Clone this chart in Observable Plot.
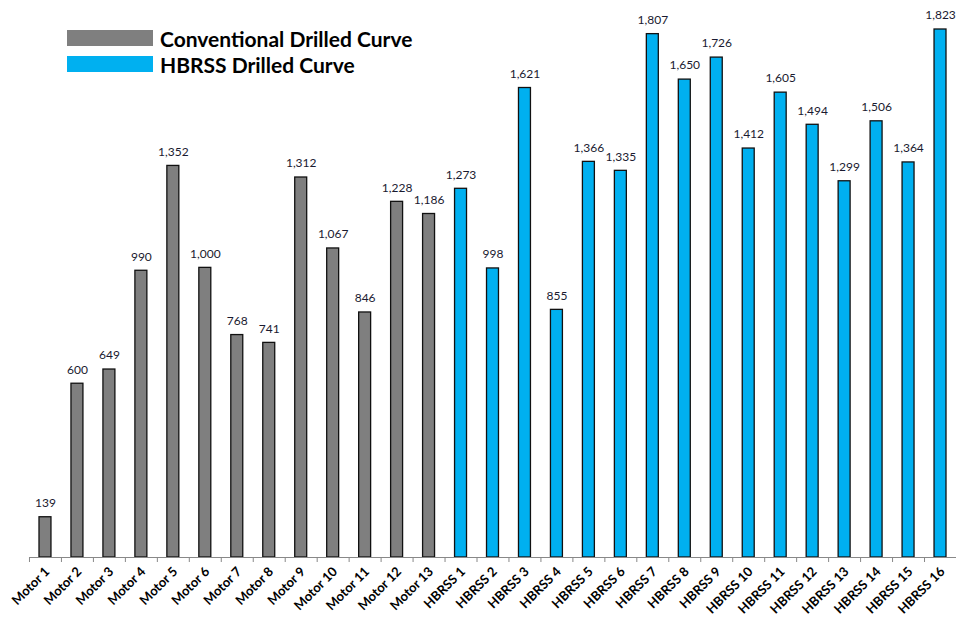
<!DOCTYPE html>
<html>
<head>
<meta charset="utf-8">
<script src="https://cdn.jsdelivr.net/npm/d3@7"></script>
<script src="https://cdn.jsdelivr.net/npm/@observablehq/plot@0.6"></script>
<style>
  body { margin: 0; background: #fff; }
  #wrap { position: relative; width: 956px; height: 618px; }
  #legend { position: absolute; left: 67px; top: 25px; font-family: Lato, "Open Sans", sans-serif; font-weight: bold; font-size: 21px; color: #000; }
  .row { display: flex; align-items: center; height: 26px; }
  .sw { width: 86px; height: 16px; margin-right: 7px; }
</style>
</head>
<body>
<div id="wrap"><div id="legend"></div></div>
<script>
const motorLabels = ["Motor 1","Motor 2","Motor 3","Motor 4","Motor 5","Motor 6","Motor 7","Motor 8","Motor 9","Motor 10","Motor 11","Motor 12","Motor 13"];
const motorValues = [139,600,649,990,1352,1000,768,741,1312,1067,846,1228,1186];
const hbrssLabels = ["HBRSS 1","HBRSS 2","HBRSS 3","HBRSS 4","HBRSS 5","HBRSS 6","HBRSS 7","HBRSS 8","HBRSS 9","HBRSS 10","HBRSS 11","HBRSS 12","HBRSS 13","HBRSS 14","HBRSS 15","HBRSS 16"];
const hbrssValues = [1273,998,1621,855,1366,1335,1807,1650,1726,1412,1605,1494,1299,1506,1364,1823];
const seriesNames = ["Conventional Drilled Curve","HBRSS Drilled Curve"];
const seriesColors = ["#7f7f7f","#00b0f0"];

const data = [
  ...motorLabels.map((l,i)=>({label:l, value:motorValues[i], series:seriesNames[0]})),
  ...hbrssLabels.map((l,i)=>({label:l, value:hbrssValues[i], series:seriesNames[1]}))
];
const cats = data.map(d=>d.label);
const last = cats[cats.length-1];

const chart = Plot.plot({
  width: 956,
  height: 618,
  marginTop: 29,
  marginBottom: 61,
  marginLeft: 29,
  marginRight: 0,
  style: {fontFamily: "Lato, 'Open Sans', sans-serif", background: "#fff"},
  x: {domain: cats, padding: 0, round: false, axis: null},
  y: {domain: [0, 1823], axis: null},
  color: {domain: seriesNames, range: seriesColors},
  marks: [
    Plot.barY(data, {x: "label", y: "value", fill: "series", stroke: "#111", strokeWidth: 1.3, insetLeft: 10, insetRight: 10}),
    Plot.text(data, {x: "label", y: "value", text: d => d3.format(",")(d.value), dy: -14, fontSize: 12, fill: "#1a1a30"}),
    Plot.ruleY([0], {stroke: "#888", strokeWidth: 1}),
    Plot.ruleX(cats, {x: d => d, y1: 0, y2: 0, insetBottom: -5, dx: -16, stroke: "#888"}),
    Plot.ruleX([last], {x: d => d, y1: 0, y2: 0, insetBottom: -5, dx: 16, stroke: "#888"}),
    Plot.axisX({tickSize: 0, tickRotate: -45, fontWeight: "bold", fontSize: 13, fill: "#000", tickPadding: 12, dx: 2, label: null})
  ]
});
document.getElementById("wrap").prepend(chart);
const lg = document.getElementById("legend");
seriesNames.forEach((n,i)=>{
  const r = document.createElement("div"); r.className = "row";
  const s = document.createElement("div"); s.className = "sw"; s.style.background = seriesColors[i];
  const t = document.createElement("span"); t.textContent = n;
  r.append(s, t); lg.append(r);
});
</script>
</body>
</html>
